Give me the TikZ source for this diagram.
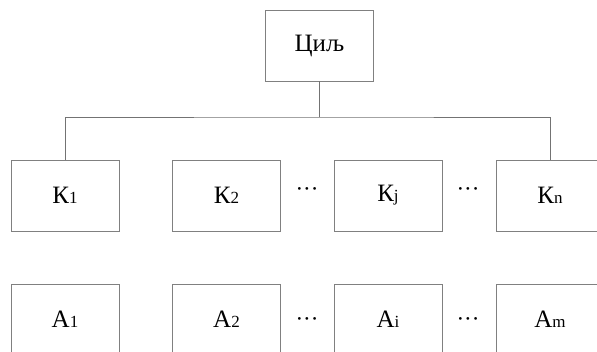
\documentclass[tikz,border=0pt]{standalone}
\usepackage{fontspec}
\setmainfont{Liberation Serif}
\newcommand{\bigtxt}{\fontsize{25}{28}\selectfont}
\newcommand{\subtxt}[1]{{\fontsize{17}{18}\selectfont #1}}
\begin{document}
\begin{tikzpicture}[x=1pt,y=1pt,
  box/.style={draw=black!50, line width=0.9pt, minimum width=108pt, minimum height=71pt, inner sep=0pt, font=\bigtxt},
  lowbox/.style={box, minimum height=80pt},
  conn/.style={draw=black!55, line width=0.9pt},
  dots/.style={inner sep=0pt, font=\fontsize{23}{24}\selectfont}]
\useasboundingbox (0,0) rectangle (597,351);
\fill[white] (0,0) rectangle (597,351);
\clip (0,0) rectangle (597,351);
% goal
\node[box] (goal) at (319.5,305.5) {Циљ};
% criteria
\node[box] (k1) at (65,155.5) {К\subtxt{1}};
\node[box] (k2) at (226.5,155.5) {К\subtxt{2}};
\node[box] (kj) at (388,155.5) {К\subtxt{j}};
\node[box] (kn) at (550,155.5) {К\subtxt{n}};
\node[dots] (dk1) at (307,159) {···};
\node[dots] (dk2) at (468,159) {···};
% alternatives
\node[lowbox] (a1) at (65,27) {};
\node[lowbox] (a2) at (226.5,27) {};
\node[lowbox] (ai) at (388,27) {};
\node[lowbox] (am) at (550,27) {};
\node[font=\bigtxt, anchor=base] (ta1) at (65,24) {А\subtxt{1}};
\node[font=\bigtxt, anchor=base] (ta2) at (226.5,24) {А\subtxt{2}};
\node[font=\bigtxt, anchor=base] (tai) at (388,24) {А\subtxt{i}};
\node[font=\bigtxt, anchor=base] (tam) at (550,24) {А\subtxt{m}};
\node[dots] (da1) at (307,29) {···};
\node[dots] (da2) at (468,29) {···};
% connectors
\coordinate (bus) at (319.5,234);
\draw[conn] (goal.south) -- (bus);
\draw[conn] (k1.north) |- (bus) -| (kn.north);
\end{tikzpicture}
\end{document}
